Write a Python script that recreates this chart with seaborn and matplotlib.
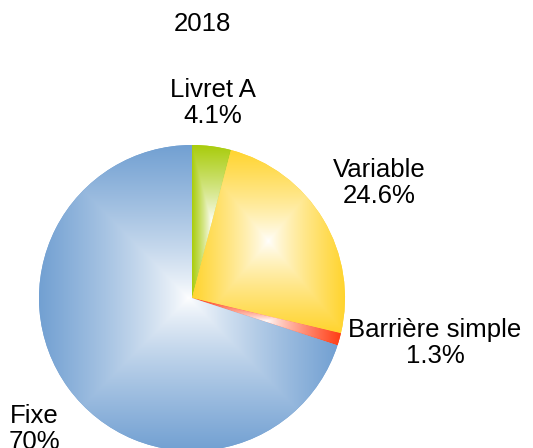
import matplotlib
matplotlib.use("Agg")
import matplotlib.pyplot as plt
import matplotlib.colors as mcolors
import numpy as np
import seaborn as sns

# values (clockwise from 12 o'clock)
labels = ["Livret A", "Variable", "Barrière simple", "Fixe"]
shares = [4.1, 24.6, 1.3, 70.0]
share_labels = ["4.1%", "24.6%", "1.3%", "70%"]
colors = ["#a9cc0c", "#ffd42e", "#ff3d14", "#72a0d2"]
title = "2018"

sns.set_theme(style="white")
plt.rcParams["font.family"] = ["Liberation Sans", "DejaVu Sans"]

W, H = 533, 448
CX, CY, R = 192, 298, 153  # pie centre / radius in pixels

fig = plt.figure(figsize=(W / 100, H / 100), dpi=100)
ax = fig.add_axes([0, 0, 1, 1])

wedges, _ = ax.pie(
    shares,
    colors=colors,
    startangle=90,
    counterclock=False,
    radius=1,
    wedgeprops={"linewidth": 0, "edgecolor": "none"},
)

# rectangular "from centre" gradient, white in the middle of each wedge's box
for wedge, col in zip(wedges, colors):
    ext = wedge.get_path().get_extents()
    x0, y0, x1, y1 = ext.x0, ext.y0, ext.x1, ext.y1
    cx, cy = (x0 + x1) / 2, (y0 + y1) / 2
    hw, hh = (x1 - x0) / 2, (y1 - y0) / 2
    xs = np.linspace(x0, x1, 400)
    ys = np.linspace(y0, y1, 400)
    gx, gy = np.meshgrid(xs, ys)
    t = np.maximum(np.abs(gx - cx) / hw, np.abs(gy - cy) / hh)
    t = np.clip(t, 0, 1) ** 0.8
    rgb = np.array(mcolors.to_rgb(col))
    img = (1 - t[..., None]) * 1.0 + t[..., None] * rgb
    im = ax.imshow(img, extent=(x0, x1, y0, y1), origin="lower",
                   interpolation="bilinear", zorder=2, aspect="auto")
    im.set_clip_path(wedge)

ax.set_xlim(-CX / R, (W - CX) / R)
ax.set_ylim((CY - H) / R, CY / R)
ax.set_aspect("auto")
ax.axis("off")


def px(x, y):
    return (x - CX) / R, (CY - y) / R


text_pos = [(213, 103), (379, 183), (435, 343), (34, 429)]
for name, pct, (x, y) in zip(labels, share_labels, text_pos):
    tx, ty = px(x, y)
    ax.text(tx, ty, f"{name}\n{pct}", ha="center", va="center",
            multialignment="center", fontsize=18.5, color="black",
            linespacing=1.1, zorder=5)

tx, ty = px(202, 24)
ax.text(tx, ty, title, ha="center", va="center", fontsize=18.5, color="black")

fig.savefig("out.png", dpi=100)
